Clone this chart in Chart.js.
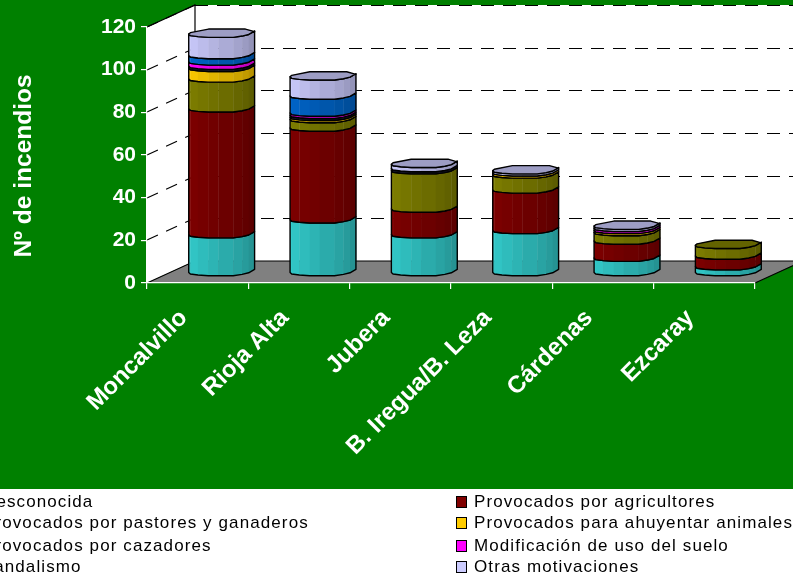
<!DOCTYPE html>
<html><head><meta charset="utf-8">
<style>html,body{margin:0;padding:0;background:#fff;overflow:hidden}canvas{display:block}</style>
<script src="https://cdn.jsdelivr.net/npm/chart.js@4"></script></head>
<body><canvas id="c" width="793" height="580"></canvas>
<script>
const categories = ["Moncalvillo","Rioja Alta","Jubera","B. Iregua/B. Leza","Cárdenas","Ezcaray"];
const seriesNames = ["Desconocida","Provocados por agricultores","Provocados por pastores y ganaderos","Provocados para ahuyentar animales","Provocados por cazadores","Modificación de uso del suelo","Vandalismo","Otras motivaciones"];
const seriesColors = ["#33CCCC","#800000","#808000","#FFCC00","#1A1A33","#FF00FF","#0066CC","#CCCCFF"];
const desconocida = [18,25,18,20,7,3];
const agricultores = [59,43,12,19,8,5];
const pastores = [14,4,18,7,4,5];
const ahuyentar = [5,1,0,1,1,0];
const cazadores = [1,1,1,0,0,0];
const modificacion = [2,1,0,0,1,0];
const vandalismo = [3,8,0,0,0,0];
const otras = [10,9,2,1,1,0];
const seriesValues = [desconocida,agricultores,pastores,ahuyentar,cazadores,modificacion,vandalismo,otras];

const GREEN="#008000", DX=48, DY=22, FONT='"Liberation Sans", Arial, sans-serif';
// Cross-section shape of the prism, as fractions of half the bar width / px
const FRONT=[[-1,0],[-.95,1.6],[-.72,2.6],[-.4,3.3],[-.1,3.3],[.35,3.3],[.62,2],[.82,.4],[1,-3]];
const BACK=[[1,-2.4],[.72,-5],[-.4,-5],[-.95,-1.4]];
function shade(hex,f){const n=parseInt(hex.slice(1),16);
  return `rgb(${Math.round((n>>16&255)*f)},${Math.round((n>>8&255)*f)},${Math.round((n&255)*f)})`;}

const scene={id:'scene',
  beforeDraw(ch){const c=ch.ctx,y=ch.scales.y,a=ch.chartArea;
    c.save();
    c.fillStyle=GREEN;c.fillRect(0,0,793,489);
    c.fillStyle="#fff";c.fillRect(0,489,793,91);
    const y0=y.getPixelForValue(0),yT=y.getPixelForValue(120),L=a.left,R=a.right;
    // back wall + side wall
    c.fillStyle="#fff";
    c.fillRect(L+DX,yT-DY,793-L-DX,y0-yT);
    c.beginPath();c.moveTo(L,y0);c.lineTo(L+DX,y0-DY);c.lineTo(L+DX,yT-DY);c.lineTo(L,yT);c.closePath();c.fill();
    // floor
    c.fillStyle="#808080";
    c.beginPath();c.moveTo(L,y0);c.lineTo(R,y0);c.lineTo(R+DX,y0-DY);c.lineTo(L+DX,y0-DY);c.closePath();c.fill();
    // gridlines
    c.lineWidth=1.2;c.strokeStyle="#000";
    y.ticks.forEach(t=>{ if(t.value===0)return;
      const p=Math.round(y.getPixelForValue(t.value));
      c.setLineDash([13,9]);
      c.beginPath();c.moveTo(L+DX,p-DY+.5);c.lineTo(793,p-DY+.5);c.stroke();
      c.setLineDash([12,9]);
      c.beginPath();c.moveTo(L,p);c.lineTo(L+DX,p-DY);c.stroke();
    });
    c.setLineDash([]);
    // frame
    c.lineWidth=1.2;c.strokeStyle="#000";
    c.beginPath();c.moveTo(L,yT);c.lineTo(L+DX,yT-DY);c.lineTo(L+DX,y0-DY);c.moveTo(L,y0);c.lineTo(L+DX,y0-DY);c.lineTo(793,y0-DY);
    c.moveTo(R,y0);c.lineTo(R+DX,y0-DY);c.stroke();
    c.restore();
  },
  beforeDatasetDraw(){return false;},
  afterDatasetsDraw(ch){const c=ch.ctx;
    const n=ch.data.labels.length;
    c.save();c.lineJoin="round";
    for(let j=0;j<n;j++){
      let lastTop=null;
      ch.data.datasets.forEach((ds,i)=>{
        const el=ch.getDatasetMeta(i).data[j];
        if(!ds.data[j])return;
        const hw=el.width/2,cx=el.x+DX/2,yt=el.y-DY/2+1,yb=el.base-DY/2+1;
        const N=FRONT.length-1;
        for(let k=0;k<N;k++){
          const a=FRONT[k],b=FRONT[k+1];
          c.fillStyle=shade(ds.backgroundColor,1-.28*k/(N-1));
          c.beginPath();
          c.moveTo(cx+a[0]*hw,yt+a[1]);c.lineTo(cx+b[0]*hw+.4,yt+b[1]);
          c.lineTo(cx+b[0]*hw+.4,yb+b[1]);c.lineTo(cx+a[0]*hw,yb+a[1]);c.closePath();c.fill();
        }
        c.strokeStyle="#000";c.lineWidth=1.4;
        c.beginPath();
        FRONT.forEach((p,k)=>{const X=cx+p[0]*hw,Y=yt+p[1];k?c.lineTo(X,Y):c.moveTo(X,Y);});
        [...FRONT].reverse().forEach(p=>c.lineTo(cx+p[0]*hw,yb+p[1]));
        c.closePath();c.stroke();
        lastTop={cx,hw,yt,color:ds.backgroundColor};
      });
      if(lastTop){const {cx,hw,yt,color}=lastTop;
        c.fillStyle=shade(color,.77);c.strokeStyle="#000";c.lineWidth=1.4;
        c.beginPath();
        [...FRONT,...BACK].forEach((p,k)=>{const X=cx+p[0]*hw,Y=yt+p[1];k?c.lineTo(X,Y):c.moveTo(X,Y);});
        c.closePath();c.fill();c.stroke();
      }
    }
    c.restore();
  },
  afterDraw(ch){const c=ch.ctx;
    c.save();
    // axis title
    c.translate(24,166);c.rotate(-Math.PI/2);
    c.fillStyle="#fff";c.font='bold 24.5px '+FONT;c.textAlign="center";c.textBaseline="middle";
    c.fillText("Nº de incendios",0,0);
    c.restore();
    // two-column legend
    c.save();
    c.font='17px '+FONT;c.letterSpacing='1.1px';c.textBaseline="middle";c.textAlign="left";
    const rows=[502,523,546,567], cols=[-17,474];
    ch.data.datasets.forEach((ds,i)=>{
      const col=i%2,row=(i-col)/2,x=cols[col],y=rows[row];
      c.fillStyle=ds.backgroundColor;c.fillRect(x-18,y-6,11,12);
      c.strokeStyle="#000";c.lineWidth=1;c.strokeRect(x-17.5,y-5.5,10,11);
      c.fillStyle="#000";c.fillText(ds.label,x,y);
    });
    c.restore();
  }
};

new Chart(document.getElementById('c'),{
  type:'bar',
  data:{labels:categories,datasets:seriesNames.map((name,i)=>({label:name,data:seriesValues[i],backgroundColor:seriesColors[i],borderColor:"#000",barPercentage:.65,categoryPercentage:1}))},
  plugins:[scene],
  options:{
    responsive:false,animation:false,events:[],
    layout:{padding:{top:27,right:38,left:0,bottom:0}},
    plugins:{legend:{display:false},tooltip:{enabled:false},title:{display:false}},
    scales:{
      x:{stacked:true,
        afterFit(s){s.height=297;},
        grid:{drawOnChartArea:false,color:"#fff",tickLength:6,lineWidth:1.2},
        border:{color:"#fff",width:1.2},
        ticks:{color:"#fff",font:{family:FONT,weight:'bold',size:24},autoSkip:false,minRotation:45,maxRotation:45,padding:15,labelOffset:-14}},
      y:{stacked:true,min:0,max:120,
        afterFit(s){s.width=147;},
        grid:{drawOnChartArea:false,color:"#fff",tickLength:6,lineWidth:1.2},
        border:{color:"#fff",width:1.2},
        ticks:{color:"#fff",stepSize:20,font:{family:FONT,weight:'bold',size:21},padding:5}}
    }
  }
});
</script></body></html>
